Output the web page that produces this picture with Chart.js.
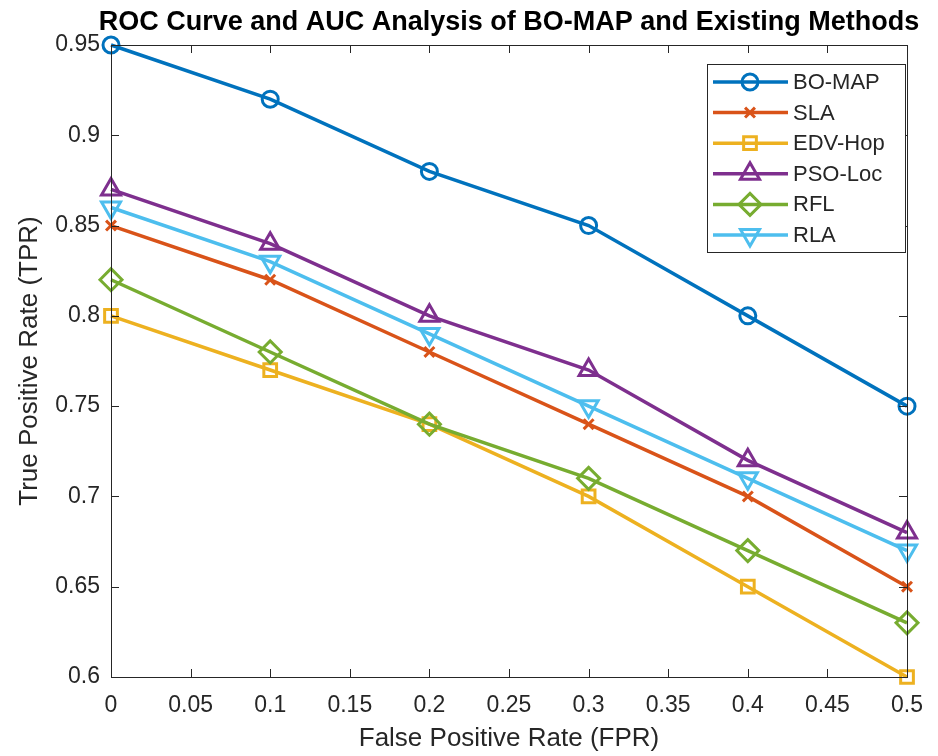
<!DOCTYPE html>
<html>
<head>
<meta charset="utf-8">
<script src="https://cdn.jsdelivr.net/npm/chart.js@4"></script>
<style>
  html, body { margin: 0; padding: 0; background: #fff; }
  #wrap { width: 938px; height: 756px; }
</style>
</head>
<body>
<div id="wrap"><canvas id="roc" width="938" height="756"></canvas></div>
<script>
// values
const fpr = [0, 0.1, 0.2, 0.3, 0.4, 0.5];
const boMap = [0.95, 0.92, 0.88, 0.85, 0.80, 0.75];
const sla = [0.85, 0.82, 0.78, 0.74, 0.70, 0.65];
const edvHop = [0.80, 0.77, 0.74, 0.70, 0.65, 0.60];
const psoLoc = [0.87, 0.84, 0.80, 0.77, 0.72, 0.68];
const rfl = [0.82, 0.78, 0.74, 0.71, 0.67, 0.63];
const rla = [0.86, 0.83, 0.79, 0.75, 0.71, 0.67];

const seriesNames = ['BO-MAP', 'SLA', 'EDV-Hop', 'PSO-Loc', 'RFL', 'RLA'];
const xTicks = [0, 0.05, 0.1, 0.15, 0.2, 0.25, 0.3, 0.35, 0.4, 0.45, 0.5];
const yTicks = [0.6, 0.65, 0.7, 0.75, 0.8, 0.85, 0.9, 0.95];

const FONT = '"Liberation Sans", Arial, Helvetica, sans-serif';
const AXIS_COLOR = '#262626';

// MATLAB default colour order + marker per series
const styles = [
  { color: '#0072BD', pointStyle: 'circle', radius: 8, rotation: 0 },
  { color: '#D95319', pointStyle: 'crossRot', radius: 7, rotation: 0 },
  { color: '#EDB120', pointStyle: 'rect', radius: 9, rotation: 0 },
  { color: '#7E2F8E', pointStyle: 'triangle', radius: 11, rotation: 0 },
  { color: '#77AC30', pointStyle: 'rectRot', radius: 11, rotation: 0 },
  { color: '#4DBEEE', pointStyle: 'triangle', radius: 11, rotation: 180 }
];

const allSeries = [boMap, sla, edvHop, psoLoc, rfl, rla];

const datasets = allSeries.map((vals, i) => ({
  label: seriesNames[i],
  data: vals.map((v, j) => ({ x: fpr[j], y: v })),
  borderColor: styles[i].color,
  borderWidth: 3.5,
  pointStyle: styles[i].pointStyle,
  pointRadius: styles[i].radius,
  pointRotation: styles[i].rotation,
  pointBorderWidth: 3,
  pointBorderColor: styles[i].color,
  pointBackgroundColor: 'rgba(0,0,0,0)',
  tension: 0,
  clip: false,
  order: -i
}));

// box, inward ticks, titles and legend drawn the MATLAB way
const matlabAxes = {
  id: 'matlabAxes',
  afterDraw(chart) {
    const { ctx, chartArea: a, scales } = chart;
    const tl = 8;
    ctx.save();
    ctx.strokeStyle = AXIS_COLOR;
    ctx.lineWidth = 1;
    ctx.strokeRect(a.left + 0.5, a.top + 0.5, a.right - a.left, a.bottom - a.top);
    ctx.beginPath();
    xTicks.forEach(v => {
      const px = Math.round(scales.x.getPixelForValue(v)) + 0.5;
      ctx.moveTo(px, a.bottom); ctx.lineTo(px, a.bottom - tl);
      ctx.moveTo(px, a.top); ctx.lineTo(px, a.top + tl);
    });
    yTicks.forEach(v => {
      const py = Math.round(scales.y.getPixelForValue(v)) + 0.5;
      ctx.moveTo(a.left, py); ctx.lineTo(a.left + tl, py);
      ctx.moveTo(a.right, py); ctx.lineTo(a.right - tl, py);
    });
    ctx.stroke();

    // title
    ctx.fillStyle = '#000';
    ctx.textAlign = 'center';
    ctx.textBaseline = 'middle';
    ctx.font = 'bold 27px ' + FONT;
    ctx.fillText('ROC Curve and AUC Analysis of BO-MAP and Existing Methods', (a.left + a.right) / 2, 23);

    // axis titles
    ctx.fillStyle = AXIS_COLOR;
    ctx.font = '26px ' + FONT;
    ctx.fillText('False Positive Rate (FPR)', (a.left + a.right) / 2, 739);
    ctx.save();
    ctx.translate(30, (a.top + a.bottom) / 2);
    ctx.rotate(-Math.PI / 2);
    ctx.fillText('True Positive Rate (TPR)', 0, 0);
    ctx.restore();

    // legend
    const lx = 707, ly = 64, lw = 198, lh = 188;
    ctx.fillStyle = '#fff';
    ctx.fillRect(lx, ly, lw, lh);
    ctx.strokeRect(lx + 0.5, ly + 0.5, lw, lh);
    ctx.font = '22px ' + FONT;
    ctx.textAlign = 'left';
    seriesNames.forEach((name, i) => {
      const ry = 82 + i * 30.6;
      const s = styles[i];
      ctx.strokeStyle = s.color;
      ctx.lineWidth = 3.5;
      ctx.beginPath();
      ctx.moveTo(713, ry); ctx.lineTo(788, ry);
      ctx.stroke();
      ctx.lineWidth = 3;
      ctx.fillStyle = 'rgba(0,0,0,0)';
      Chart.helpers.drawPoint(ctx, {
        pointStyle: s.pointStyle, radius: s.radius, rotation: s.rotation, borderWidth: 3
      }, 750, ry);
      ctx.fillStyle = AXIS_COLOR;
      ctx.fillText(name, 793, ry + 1);
    });
    ctx.restore();
  }
};

new Chart(document.getElementById('roc'), {
  type: 'line',
  data: { datasets },
  options: {
    responsive: false,
    animation: false,
    layout: { padding: { top: 45, right: 25, left: 0, bottom: 0 } },
    plugins: {
      legend: { display: false },
      title: { display: false },
      tooltip: { enabled: false }
    },
    scales: {
      x: {
        type: 'linear',
        min: 0,
        max: 0.5,
        afterBuildTicks: s => { s.ticks = xTicks.map(v => ({ value: v })); },
        afterFit: s => { s.height = 79; },
        grid: { display: false, drawTicks: false },
        border: { display: false },
        ticks: {
          padding: 15,
          color: AXIS_COLOR,
          font: { family: FONT, size: 23 },
          maxRotation: 0,
          autoSkip: false,
          callback: v => String(+v.toFixed(2))
        }
      },
      y: {
        type: 'linear',
        min: 0.6,
        max: 0.95,
        afterBuildTicks: s => { s.ticks = yTicks.map(v => ({ value: v })); },
        afterFit: s => { s.width = 111; },
        grid: { display: false, drawTicks: false },
        border: { display: false },
        ticks: {
          padding: 11,
          color: AXIS_COLOR,
          font: { family: FONT, size: 23 },
          autoSkip: false,
          callback: v => String(+v.toFixed(2))
        }
      }
    }
  },
  plugins: [matlabAxes]
});
</script>
</body>
</html>
